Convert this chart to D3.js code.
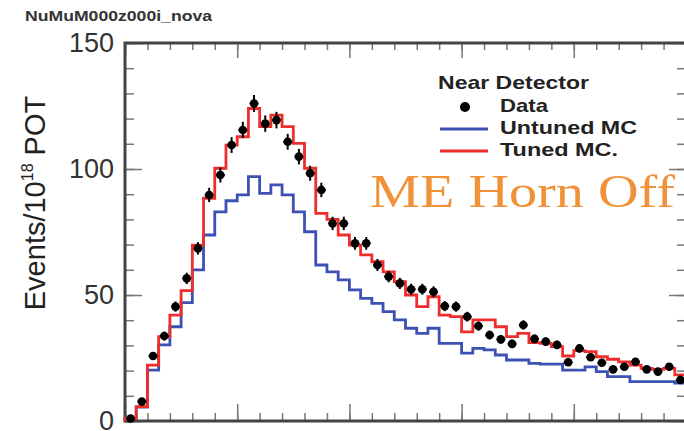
<!DOCTYPE html>
<html>
<head>
<meta charset="utf-8">
<script src="https://cdn.jsdelivr.net/npm/d3@7"></script>
<style>
  html, body { margin: 0; padding: 0; background: #fff; }
  svg { display: block; font-family: "Liberation Sans", Arial, sans-serif; }
</style>
</head>
<body>
<svg id="chart" width="684" height="431"></svg>
<script>
// reconstructed energy bins, 0.1 GeV wide, 0 - 5 GeV
var binEdges = d3.range(0, 50).map(function (i) { return i / 10; });

var dataValues = [1, 7.7, 25.8, 33.7, 45.4, 56.6, 68.5, 89.7, 97.6, 109.5,
  115.5, 126, 118, 119.4, 110.8, 104.9, 98.3, 91.7, 78.4, 78.4,
  70.5, 70.5, 61.9, 57.3, 54.6, 52.3, 52.3, 51.3, 45.6, 45.4,
  41.4, 37.7, 34.1, 32.4, 30.6, 38.1, 32.6, 31.5, 30.2, 23.3,
  28.8, 25.3, 23.1, 20.5, 21.5, 23.5, 20.5, 19.6, 21.5, 16.3];

var tunedMC = [1, 5.7, 22.2, 33.5, 42, 51.7, 69.8, 88.4, 100.3, 109.5,
  112.8, 124, 116.8, 121.4, 116.8, 110.2, 100.3, 82.4, 80, 73.8,
  69.8, 65.9, 63.2, 59.2, 55.3, 50, 45.4, 49.3, 42, 41.4,
  35.4, 40.1, 40.1, 37.4, 33.5, 34.8, 31.1, 30.8, 29.5, 25.8,
  27.9, 27.5, 25.5, 24.5, 23.5, 22.2, 20.9, 20.5, 20.9, 18.3];

var untunedMC = [1, 5.5, 20.2, 30.2, 37.4, 47, 60, 73.8, 83, 87.4,
  89.7, 97, 90.3, 93.7, 89.7, 83, 75.1, 61.9, 59.2, 56,
  52, 48.7, 46.7, 43.4, 40.1, 36.8, 34.8, 36.8, 30.8, 30.8,
  26.9, 28.8, 28.2, 26.2, 24.2, 24.2, 22.9, 22.6, 22.6, 20.2,
  20.2, 21.5, 19.6, 17.6, 17.6, 15.6, 15.6, 15.6, 15.6, 15];

var yMajorTicks = [0, 50, 100, 150];
var yMinorTicks = d3.range(0, 151, 10);
var xMajorTicks = [0, 1, 2, 3, 4, 5];
var xMinorTicks = d3.range(0, 26).map(function (i) { return i * 0.2; });

var legendItems = [
  { label: "Data", type: "dot" },
  { label: "Untuned MC", type: "line", color: "#3d51b5" },
  { label: "Tuned MC.", type: "line", color: "#ee2d2d" }
];

var binWidth = 0.1;
var svg = d3.select("#chart");

var x = d3.scaleLinear().domain([0, 5]).range([125, 686]);
var y = d3.scaleLinear().domain([0, 150]).range([421, 43]);

// title
svg.append("text")
  .attr("x", 25).attr("y", 21)
  .attr("font-size", 14).attr("font-weight", "bold")
  .attr("fill", "#333")
  .attr("textLength", 187).attr("lengthAdjust", "spacingAndGlyphs")
  .text("NuMuM000z000i_nova");

// ticks
function tickLayer(axisFn, scale, values, size, tx, ty, labels) {
  var a = axisFn(scale).tickValues(values).tickSize(-size).tickPadding(11);
  if (!labels) a.tickFormat("");
  var g = svg.append("g")
    .attr("transform", "translate(" + tx + "," + ty + ")")
    .call(a);
  g.select(".domain").remove();
  g.attr("font-family", null).attr("font-size", null);
  g.selectAll(".tick line").attr("stroke", "#777").attr("stroke-width", 1.5);
  g.selectAll(".tick text")
    .attr("font-size", 27)
    .attr("fill", "#333");
  return g;
}

tickLayer(d3.axisLeft, y, yMinorTicks, 9, 125, 0, false);
tickLayer(d3.axisLeft, y, yMajorTicks, 17, 125, 0, true);
tickLayer(d3.axisRight, y, yMinorTicks, 9, 686, 0, false);
tickLayer(d3.axisRight, y, yMajorTicks, 17, 686, 0, false);
tickLayer(d3.axisBottom, x, xMinorTicks, 8, 0, 421, false);
tickLayer(d3.axisBottom, x, xMajorTicks, 17, 0, 421, false);
tickLayer(d3.axisTop, x, xMinorTicks, 7, 0, 43, false);
tickLayer(d3.axisTop, x, xMajorTicks, 15, 0, 43, false);

// frame
svg.append("rect")
  .attr("x", x(0)).attr("y", y(150))
  .attr("width", x(5) - x(0)).attr("height", y(0) - y(150))
  .attr("fill", "none").attr("stroke", "#444").attr("stroke-width", 3);

// y axis title
var yt = svg.append("text")
  .attr("transform", "translate(45,203) rotate(-90)")
  .attr("text-anchor", "middle")
  .attr("font-size", 29)
  .attr("fill", "#222");
yt.append("tspan").text("Events/10");
yt.append("tspan").attr("font-size", 16).attr("dy", -12).text("18");
yt.append("tspan").attr("dy", 12).text(" POT");

// histograms
function histPoints(values) {
  var pts = [[0, 0]];
  values.forEach(function (v, i) { pts.push([binEdges[i], v]); });
  pts.push([binEdges[values.length - 1] + binWidth, values[values.length - 1]]);
  return pts;
}

var stepLine = d3.line()
  .x(function (d) { return x(d[0]); })
  .y(function (d) { return y(d[1]); })
  .curve(d3.curveStepAfter);

svg.append("path")
  .datum(histPoints(untunedMC))
  .attr("fill", "none").attr("stroke", "#3d51b5").attr("stroke-width", 2.8)
  .attr("d", stepLine);

svg.append("path")
  .datum(histPoints(tunedMC))
  .attr("fill", "none").attr("stroke", "#ee2d2d").attr("stroke-width", 2.8)
  .attr("d", stepLine);

// data points with error bars
var pts = svg.append("g").selectAll("g").data(dataValues).enter().append("g");
pts.append("line")
  .attr("x1", function (d, i) { return x(binEdges[i] + binWidth / 2); })
  .attr("x2", function (d, i) { return x(binEdges[i] + binWidth / 2); })
  .attr("y1", function (d) { return y(d + 0.3 * Math.sqrt(d)); })
  .attr("y2", function (d) { return y(d - 0.3 * Math.sqrt(d)); })
  .attr("stroke", "#000").attr("stroke-width", 2);
pts.append("line")
  .attr("x1", function (d, i) { return x(binEdges[i] + binWidth * 0.1); })
  .attr("x2", function (d, i) { return x(binEdges[i] + binWidth * 0.9); })
  .attr("y1", function (d) { return y(d); })
  .attr("y2", function (d) { return y(d); })
  .attr("stroke", "#000").attr("stroke-width", 1.5);
pts.append("circle")
  .attr("cx", function (d, i) { return x(binEdges[i] + binWidth / 2); })
  .attr("cy", function (d) { return y(d); })
  .attr("r", 4.3)
  .attr("fill", "#000");

// legend
svg.append("text")
  .attr("x", 438).attr("y", 89)
  .attr("font-size", 19).attr("font-weight", "bold").attr("fill", "#222")
  .attr("textLength", 151).attr("lengthAdjust", "spacingAndGlyphs")
  .text("Near Detector");

var legendWidths = [48, 137, 118];
var lg = svg.append("g").selectAll("g").data(legendItems).enter().append("g")
  .attr("transform", function (d, i) { return "translate(0," + (107 + i * 22) + ")"; });
lg.filter(function (d) { return d.type === "dot"; })
  .append("circle").attr("cx", 465).attr("cy", 0).attr("r", 5).attr("fill", "#000");
lg.filter(function (d) { return d.type === "line"; })
  .append("line")
  .attr("x1", 440).attr("x2", 488).attr("y1", 0).attr("y2", 0)
  .attr("stroke", function (d) { return d.color; }).attr("stroke-width", 3);
lg.append("text")
  .attr("x", 500).attr("y", 5)
  .attr("font-size", 19).attr("font-weight", "bold").attr("fill", "#222")
  .attr("textLength", function (d, i) { return legendWidths[i]; })
  .attr("lengthAdjust", "spacingAndGlyphs")
  .text(function (d) { return d.label; });

// annotation
svg.append("text")
  .attr("x", 370).attr("y", 207)
  .style("font-family", "'Liberation Serif', 'Times New Roman', serif")
  .attr("font-size", 46).attr("fill", "#f0923a")
  .attr("textLength", 305).attr("lengthAdjust", "spacingAndGlyphs")
  .text("ME Horn Off");
</script>
</body>
</html>
